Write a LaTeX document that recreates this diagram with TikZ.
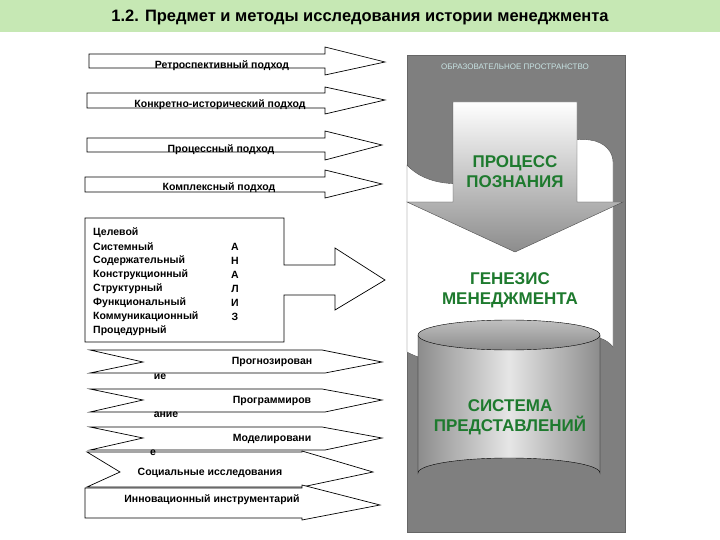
\documentclass[tikz,border=0pt]{standalone}
\usepackage{fontspec}
\setmainfont{Liberation Sans}
\usetikzlibrary{shapes.geometric}
\definecolor{titlebg}{HTML}{C6E8B4}
\definecolor{panel}{HTML}{7F7F7F}
\definecolor{grn}{HTML}{1E7A2E}
\definecolor{cyantxt}{HTML}{C8E4E4}
\tikzset{
  shp/.style={draw=black,fill=white,line width=0.7pt},
  lbl/.style={font=\bfseries\fontsize{10.5}{12}\selectfont,inner sep=0pt},
  big/.style={font=\bfseries\fontsize{17}{20}\selectfont,text=grn,align=center,inner sep=0pt},
}
\begin{document}
\begin{tikzpicture}[x=1pt,y=-1pt]
\useasboundingbox (0,0) rectangle (720,540);
\fill[white] (0,0) rectangle (720,540);
\fill[titlebg] (0,0) rectangle (720,32);
\node[font=\bfseries\fontsize{16.5}{19}\selectfont,inner sep=0pt] (title) at (360,17) {1.2. Предмет и методы исследования истории менеджмента};
% approach arrows
\draw[shp] (89,54) -- (325,54) -- (325,47) -- (385,62) -- (325,75) -- (325,68) -- (89,68) -- cycle;
\draw[shp] (87,93) -- (325,93) -- (325,87) -- (385,100) -- (325,114) -- (325,108) -- (87,108) -- cycle;
\draw[shp] (87,138) -- (325,138) -- (325,131) -- (382,145) -- (325,160) -- (325,152) -- (87,152) -- cycle;
\draw[shp] (85,177) -- (325,177) -- (325,170) -- (382,184) -- (325,198) -- (325,192) -- (85,192) -- cycle;
\node[lbl] (a1) at (222,66) {Ретроспективный подход};
\node[lbl] (a2) at (220,105) {Конкретно-исторический подход};
\node[lbl] (a3) at (221,150) {Процессный подход};
\node[lbl] (a4) at (219,188) {Комплексный подход};
% big box arrow
\draw[shp] (85,218) -- (284,218) -- (284,265) -- (335,265) -- (335,248) -- (385,280) -- (335,310) -- (335,295) -- (284,295) -- (284,342) -- (85,342) -- cycle;
\foreach \t [count=\i from 0] in {Целевой,Системный,Содержательный,Конструкционный,Структурный,Функциональный,Коммуникационный,Процедурный}
  \node[lbl,anchor=west] (m\i) at (93,233+13.9*\i) {\t};
\foreach \t [count=\i from 1] in {А,Н,А,Л,И,З}
  \node[lbl] (l\i) at (235,233+13.9*\i) {\t};
% method chevrons
\draw[shp] (90,350) -- (322,350) -- (382,362) -- (325,373) -- (90,373) -- (143,362) -- cycle;
\draw[shp] (90,389) -- (322,389) -- (382,400) -- (325,412) -- (90,412) -- (143,400) -- cycle;
\draw[shp] (90,427) -- (322,427) -- (382,438) -- (325,450) -- (90,450) -- (143,438) -- cycle;
\draw[shp] (87,452) -- (302,452) -- (302,451) -- (373,472) -- (302,487) -- (87,487) -- (120,472) -- cycle;
\draw[shp] (85,488) -- (302,488) -- (302,485) -- (380,505) -- (302,520) -- (302,518) -- (85,518) -- cycle;
\node[lbl] (p1) at (272,362) {Прогнозирован};
\node[lbl] (p1b) at (160,377) {ие};
\node[lbl] (p2) at (272,401) {Программиров};
\node[lbl] (p2b) at (166,415) {ание};
\node[lbl] (p3) at (272,439) {Моделировани};
\node[lbl] (p3b) at (153,453) {е};
\node[lbl] (p4) at (210,473) {Социальные исследования};
\node[lbl] (p5) at (212,500) {Инновационный инструментарий};
% right panel
\fill[panel] (407,55) rectangle (625,532);
\draw[black!60,line width=0.8pt] (407,55) rectangle (625,532);
\node[font=\fontsize{8}{9}\selectfont,text=cyantxt,inner sep=0pt] (op) at (515,67) {ОБРАЗОВАТЕЛЬНОЕ ПРОСТРАНСТВО};
% white wave banner
\filldraw[fill=white,draw=black!70] (407,165) .. controls (425,185) and (460,190) .. (510,175)
  .. controls (550,160) and (560,135) .. (590,140) .. controls (605,142) and (613,152) .. (613,162)
  -- (613,347) .. controls (600,330) and (570,335) .. (520,345) .. controls (470,355) and (440,370) .. (407,352) -- cycle;
% down arrow
\shade[top color=white,bottom color=black!45]
  (453,102) -- (577,102) -- (577,202) -- (623,202) -- (515,252) -- (407,202) -- (453,202) -- cycle;
\draw[black!70] (453,102) -- (577,102) -- (577,202) -- (623,202) -- (515,252) -- (407,202) -- (453,202) -- cycle;
\node[big] (pp) at (515,172) {ПРОЦЕСС\\ПОЗНАНИЯ};
\node[big] (gen) at (510,290) {ГЕНЕЗИС\\МЕНЕДЖМЕНТА};
% cylinder
\shade[left color=black!45,right color=black!45,middle color=white!90!black]
  (418,335) -- (418,473) arc[start angle=180,end angle=360,x radius=91,y radius=15] -- (600,335) -- cycle;
\draw (418,335) -- (418,473) arc[start angle=180,end angle=360,x radius=91,y radius=15] -- (600,335);
\shade[top color=black!25,bottom color=black!45,draw=black] (509,335) ellipse[x radius=91,y radius=15];
\node[big] (sp) at (510,417) {СИСТЕМА\\ПРЕДСТАВЛЕНИЙ};
\end{tikzpicture}
\end{document}
